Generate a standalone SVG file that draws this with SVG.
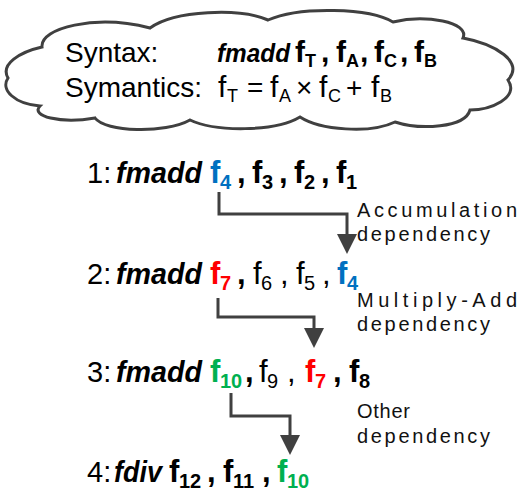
<svg xmlns="http://www.w3.org/2000/svg" width="527" height="491" viewBox="0 0 527 491">
<style>
text{font-family:"Liberation Sans",Arial,sans-serif;fill:#000}
.r{font-size:29px}
.f{font-size:31px}
.c{font-size:28px}
.cf{font-size:30px}
.bi{font-weight:bold;font-style:italic}
.b{font-weight:bold}
.s{font-size:20px}
.cs{font-size:18px}
.blue{fill:#0070C0}
.red{fill:#FF0000}
.green{fill:#00B050}
.lbl{font-size:20px;fill:#111}
.conn{fill:none;stroke:#404040;stroke-width:3;marker-end:url(#ah)}
</style>
<defs>
<marker id="ah" markerUnits="userSpaceOnUse" markerWidth="20" markerHeight="20" viewBox="0 0 20 20" refX="2" refY="10" orient="auto">
<path d="M0,0 L20,10 L0,20 Z" fill="#404040"/>
</marker>
</defs>
<g id="cloud">
<path d="M42,47 C40,28 95,14 150,28 C175,10 240,8 268,20 C300,6 370,8 393,22 C425,14 470,22 463,38 C495,44 525,62 508,80 C520,98 490,110 470,110 C465,128 420,130 395,122 C370,134 320,130 300,117 C275,132 215,132 190,120 C165,134 105,132 95,118 C60,124 30,116 40,106 C15,104 0,90 8,78 C0,64 20,52 42,47 Z" fill="#fff" stroke="#404040" stroke-width="3"/>
<text class="c" y="62"><tspan x="65">Syntax:</tspan></text>
<text y="62"><tspan class="bi" x="217" style="font-size:25px" textLength="73" lengthAdjust="spacingAndGlyphs">fmadd</tspan></text>
<text class="cf b" y="62"><tspan x="295">f</tspan><tspan x="321">,</tspan><tspan x="336">f</tspan><tspan x="360">,</tspan><tspan x="374">f</tspan><tspan x="400">,</tspan><tspan x="414">f</tspan></text>
<text class="cs b" y="67"><tspan x="305">T</tspan><tspan x="346">A</tspan><tspan x="384">C</tspan><tspan x="424">B</tspan></text>
<text class="c" y="97"><tspan x="65">Symantics:</tspan><tspan x="247">=</tspan><tspan x="296">×</tspan><tspan x="346">+</tspan></text>
<text class="cf" y="97"><tspan x="218">f</tspan><tspan x="270">f</tspan><tspan x="319">f</tspan><tspan x="371">f</tspan></text>
<text class="cs" y="102"><tspan x="227">T</tspan><tspan x="279">A</tspan><tspan x="328">C</tspan><tspan x="380">B</tspan></text>
</g>
<g id="line1">
<text class="r" y="183"><tspan x="87">1:</tspan><tspan class="bi" x="116" textLength="86" lengthAdjust="spacingAndGlyphs">fmadd</tspan></text>
<text class="f b" y="183"><tspan class="blue" x="210">f</tspan><tspan x="237">,</tspan><tspan x="252">f</tspan><tspan x="279">,</tspan><tspan x="294">f</tspan><tspan x="321">,</tspan><tspan x="336">f</tspan></text>
<text class="s b" y="189"><tspan class="blue" x="220">4</tspan><tspan x="262">3</tspan><tspan x="304">2</tspan><tspan x="346">1</tspan></text>
</g>
<g id="line2">
<text class="r" y="284"><tspan x="87">2:</tspan><tspan class="bi" x="116" textLength="86" lengthAdjust="spacingAndGlyphs">fmadd</tspan></text>
<text class="f" y="284"><tspan class="b red" x="210">f</tspan><tspan class="b" x="237">,</tspan><tspan x="253">f</tspan><tspan x="280">,</tspan><tspan x="296">f</tspan><tspan x="322">,</tspan><tspan class="b blue" x="337">f</tspan></text>
<text class="s" y="290"><tspan class="b red" x="220">7</tspan><tspan x="261">6</tspan><tspan x="304">5</tspan><tspan class="b blue" x="347">4</tspan></text>
</g>
<g id="line3">
<text class="r" y="382"><tspan x="87">3:</tspan><tspan class="bi" x="116" textLength="86" lengthAdjust="spacingAndGlyphs">fmadd</tspan></text>
<text class="f" y="382"><tspan class="b green" x="210">f</tspan><tspan class="b" x="245">,</tspan><tspan x="259">f</tspan><tspan x="287">,</tspan><tspan class="b red" x="305">f</tspan><tspan class="b" x="333">,</tspan><tspan class="b" x="349">f</tspan></text>
<text class="s" y="388"><tspan class="b green" x="220">10</tspan><tspan x="267">9</tspan><tspan class="b red" x="315">7</tspan><tspan class="b" x="359">8</tspan></text>
</g>
<g id="line4">
<text class="r" y="482"><tspan x="87">4:</tspan><tspan class="bi" x="114" textLength="48" lengthAdjust="spacingAndGlyphs">fdiv</tspan></text>
<text class="f b" y="482"><tspan x="169">f</tspan><tspan x="207">,</tspan><tspan x="223">f</tspan><tspan x="262">,</tspan><tspan class="green" x="277">f</tspan></text>
<text class="s b" y="488"><tspan x="179">12</tspan><tspan x="233">11</tspan><tspan class="green" x="287">10</tspan></text>
</g>
<g id="label1">
<text class="lbl"><tspan x="357" y="217" textLength="160" lengthAdjust="spacing">Accumulation</tspan><tspan x="357" y="241" textLength="133" lengthAdjust="spacing">dependency</tspan></text>
</g>
<g id="label2">
<text class="lbl"><tspan x="357" y="307" textLength="160" lengthAdjust="spacing">Multiply-Add</tspan><tspan x="357" y="331" textLength="133" lengthAdjust="spacing">dependency</tspan></text>
</g>
<g id="label3">
<text class="lbl"><tspan x="357" y="418" textLength="53" lengthAdjust="spacing">Other</tspan><tspan x="357" y="443" textLength="133" lengthAdjust="spacing">dependency</tspan></text>
</g>
<g id="connectors">
<path class="conn" d="M219,192 V214 H347 V236"/>
<path class="conn" d="M218,298 V317 H314 V330"/>
<path class="conn" d="M231,393 V416 H290 V437"/>
</g>
</svg>
